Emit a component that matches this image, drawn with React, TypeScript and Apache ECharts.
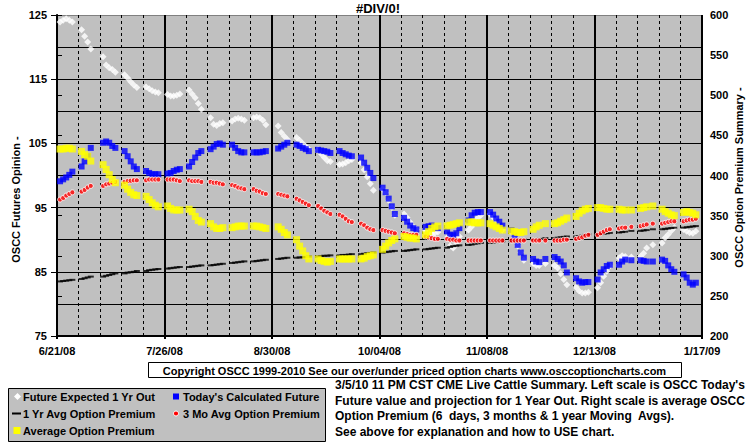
import React, { useEffect, useRef } from "react";
import * as echarts from "echarts";

// x axis: days since 6/21/08, labelled every 35 days
const xTickLabels = ["6/21/08", "7/26/08", "8/30/08", "10/04/08", "11/08/08", "12/13/08", "1/17/09"];

// Each week holds 5 trading-day values (null = market holiday)
const futureExpected1Yr = [
  123.9, 124.2, 124.4, 124.2, 123.9,
  122.7, 121.7, 120.8, 119.7, null,
  118.5, 117.2, 116.8, 116.5, 116.1,
  115.7, 115.2, 114.6, 114.1, 113.7,
  113.8, 113.5, 113.2, 113.0, 112.9,
  112.6, 112.4, 112.4, 112.5, 112.7,
  113.3, 112.7, 112.1, 111.2, 110.3,
  109.0, 108.0, 107.8, 108.1, 108.2,
  108.5, 108.8, 108.9, 108.8, 108.6,
  109.0, 109.1, 109.0, 108.6, 107.9,
  null, 107.7, 106.7, 106.1, 105.6,
  105.9, 105.5, 105.0, 104.5, 104.1,
  104.0, 103.4, 102.8, 102.3, 102.2,
  101.7, 101.8, 102.0, 102.3, 102.5,
  102.0, 100.9, 99.8, 98.7, 97.7,
  97.9, 97.3, 96.1, 95.0, 93.8,
  94.0, 93.4, 92.7, 92.0, 91.6,
  91.3, 91.1, 90.9, 91.0, 91.2,
  90.3, 89.0, 88.7, 89.3, 90.5,
  91.5, 92.0, 92.8, 93.4, 93.8,
  94.0, 93.5, 93.0, 92.3, 91.5,
  91.2, 90.3, 89.0, 88.0, 86.8,
  86.3, 86.0, 86.0, null, 86.3,
  86.0, 85.6, 84.7, 83.8, 83.0,
  82.6, 82.0, 81.7, 81.7, 81.8,
  82.5, 83.3, 84.3, 85.1, 85.9,
  87.2, 87.5, 87.4, null, 87.3,
  87.4, 87.9, 88.7, null, 89.2,
  89.5, 90.3, 90.8, 91.4, 91.9,
  91.6, 91.3, 91.1, 91.0, 91.3,
];

const todaysCalculatedFuture = [
  99.1, 99.4, 99.7, 100.1, 100.6,
  101.4, 102.2, 103.0, 104.3, null,
  105.1, 105.3, 105.1, 104.6, 104.3,
  103.8, 103.0, 102.2, 101.4, 101.0,
  100.7, 100.4, 100.2, 100.2, 100.2,
  100.3, 100.4, 100.7, 100.9, 101.0,
  101.4, 102.1, 102.8, 103.5, 103.8,
  104.1, 104.5, 104.9, 105.0, 104.8,
  104.8, 104.3, 103.8, 103.6, 103.6,
  103.6, 103.6, 103.6, 103.7, 103.8,
  null, 104.2, 104.5, 104.8, 105.1,
  104.8, 104.6, 104.3, 104.1, 103.8,
  104.0, 103.9, 103.8, 103.7, 103.5,
  103.8, 103.5, 103.3, 103.1, 103.0,
  102.8, 102.0, 101.2, 100.4, 99.6,
  98.1, 97.4, 96.4, 95.2, 94.0,
  93.4, 92.8, 92.2, 91.8, 91.6,
  92.0, 92.1, 92.2, 91.9, 91.8,
  91.3, 90.8, 90.7, 91.0, 91.8,
  93.0, 93.8, 94.2, 94.3, 94.3,
  94.3, 93.9, 93.3, 92.8, 92.2,
  91.5, 90.6, 89.2, 88.0, 87.2,
  87.0, 86.6, 86.5, null, 87.0,
  87.3, 87.0, 86.6, 86.0, 84.9,
  84.0, 83.5, 83.3, 83.4, 83.4,
  83.8, 84.9, 85.4, 85.9, 86.1,
  86.1, 86.6, 86.9, null, 86.8,
  86.8, 86.7, 86.6, null, 86.6,
  86.9, 86.7, 86.0, 85.4, 85.0,
  84.6, 84.1, 83.3, 83.0, 83.3,
];

const oneYrAvgPremium = [
  268, 268.5, 269, 269.5, 270,
  271, 272, 273, 274, null,
  274, 275, 276, 277, 278,
  278, 279, 279.5, 280, 281,
  281, 282, 282.5, 283, 283.5,
  284, 284.5, 285, 285.5, 286,
  286, 286.5, 287, 287.5, 288,
  288, 288.5, 289, 289.5, 290,
  291, 291.5, 292, 292.5, 293,
  293, 293.5, 294, 294.5, 295,
  null, 296, 296.5, 297, 297.5,
  297.5, 298, 298, 298.5, 299,
  299, 299.5, 300, 300, 300.5,
  300.5, 301, 301, 301.5, 302,
  302, 302.5, 303, 303.5, 304,
  304, 304.5, 305, 305.5, 306,
  306, 306.5, 307, 307.5, 308,
  308, 308.5, 309, 309.5, 310,
  310, 311, 312, 312.5, 313,
  313.5, 314, 315, 315.5, 316,
  316, 316.5, 317, 317.5, 318,
  318, 318.5, 319, 319.5, 320,
  320, 320.5, 321, null, 322,
  322, 322.5, 323, 323.5, 324,
  324, 324.5, 325, 326, 326.5,
  326.5, 327, 327.5, 328, 328.5,
  329, 329.5, 330, null, 331,
  331, 331.5, 332, null, 333,
  333, 333.5, 334, 334.5, 335,
  335, 335.5, 336, 336.5, 337,
];

const threeMoAvgPremium = [
  370, 372, 375, 377, 379,
  380, 382, 385, 387, null,
  387, 389, 390, 391, 392,
  392, 393, 393.5, 394, 394,
  394, 395, 395, 395, 395,
  395, 395, 395, 394, 393,
  394, 393, 393, 393, 392,
  392, 391, 391, 390, 389,
  388, 387, 385, 384, 383,
  383, 381, 380, 378, 377,
  null, 377, 376, 375, 374,
  371, 369, 367, 365, 363,
  362, 359, 356, 354, 352,
  351, 349, 346, 343, 342,
  340, 338, 335, 333, 332,
  332, 331, 330, 329, 328,
  328, 327, 326, 326, 326,
  324, 323, 322, 321, 321,
  321, 320, 320, 319, 319,
  319, 319, 319, 319, 319,
  319, 319, 319, 319, 319,
  319, 319, 319, 319, 319,
  319, 319, 319, null, 319,
  319, 319, 319, 320, 320,
  321, 322, 323, 325, 326,
  326, 328, 330, 332, 333,
  334, 335, 335, null, 336,
  337, 338, 339, null, 340,
  340, 341, 342, 343, 343,
  343, 344, 345, 345, 346,
];

const avgPremium = [
  433, 433, 434, 434, 433,
  430, 426, 424, 418, null,
  413.5, 407.5, 401, 395, 391,
  388, 383, 379, 376, 375,
  374, 370, 366, 363, 361,
  362, 359, 357, 357, 357,
  358, 355, 349, 344, 342,
  340, 336, 334, 334, 335,
  335, 336, 337, 337, 337,
  337, 337, 336, 335, 334,
  null, 336, 333, 329, 326,
  320, 312, 306, 300, 296,
  296, 294, 293, 292, 293,
  296, 296, 296, 296, 296,
  296, 297, 299, 300, 301,
  308, 312, 316, 319, 321,
  324, 323, 322, 322, 321,
  326, 330, 334, 336, 337,
  337, 338, 339, 340, 341,
  342, 342, 341, 341, 341,
  340, 338, 336, 334, 332,
  331, 330, 329, 329, 330,
  333, 336, 338, null, 340,
  340, 341, 343, 345, 347,
  349, 353, 356, 358, 359,
  360, 360, 359, 358, 358,
  358, 357, 357, null, 357,
  359, 360, 361, null, 362,
  358, 355, 353, 351, 350,
  354, 355, 354, 353, 351,
];

const legendNames = [
  "Future Expected 1 Yr Out",
  "Today's Calculated Future",
  "1 Yr Avg Option Premium",
  "3 Mo Avg Option Premium",
  "Average Option Premium",
];

const explanationLines = [
  "3/5/10 11 PM CST CME Live Cattle Summary. Left scale is OSCC Today's",
  "Future value and projection for 1 Year Out. Right scale is average OSCC",
  "Option Premium (6\u00a0 days, 3 months & 1 year Moving\u00a0 Avgs).",
  "See above for explanation and how to USE chart.",
];

const FONT = '"Liberation Sans", Arial, sans-serif';

// trading day i -> day offset from 6/21/08 (5 plotted days per 7-day week)
function toPoints(values: (number | null)[]) {
  const pts: [number, number][] = [];
  values.forEach((v, i) => {
    if (v == null) return;
    pts.push([Math.floor(i / 5) * 7 + (i % 5) + 1, v]);
  });
  return pts;
}

const boldText = (text: string, x: number, y: number, extra: any = {}, size = 11) => ({
  type: "text",
  x,
  y,
  silent: true,
  style: {
    text,
    fill: "#000",
    font: `bold ${size}px ${FONT}`,
    textAlign: "left",
    textVerticalAlign: "middle",
    ...extra,
  },
});

export default function App() {
  const ref = useRef<HTMLDivElement>(null);
  useEffect(() => {
    if (!ref.current) return;
    const chart = echarts.init(ref.current, undefined, { renderer: "svg" });
    const labelStyle = { fontWeight: "bold", fontSize: 11, color: "#000", fontFamily: FONT };
    const splitColors = ["#000", "#000", "#000", "#000", "#000", "#000", "#000", "#000", "#000", "#000", "#808080"];
    const row1 = 396.5, row2 = 413.5, row3 = 430.5;
    const option: any = {
      animation: false,
      backgroundColor: "#fff",
      grid: { left: 57, top: 15, width: 645, height: 321, show: true, backgroundColor: "#C0C0C0", borderWidth: 0 },
      xAxis: [
        {
          type: "value", min: 0, max: 210, interval: 35, position: "bottom",
          axisLine: { show: true, lineStyle: { color: "#000", width: 2 } },
          axisTick: { show: true, length: 3, lineStyle: { color: "#000", width: 2 } },
          axisLabel: { ...labelStyle, margin: 9, formatter: (v: number) => xTickLabels[Math.round(v / 35)] ?? "" },
          splitLine: { show: true, lineStyle: { color: "#000", width: 2 } },
        },
        {
          type: "value", min: 0, max: 210, interval: 7, position: "bottom",
          axisLine: { show: false }, axisTick: { show: false }, axisLabel: { show: false },
          splitLine: { show: true, lineStyle: { color: "#000", width: 1, type: [3, 3] } },
        },
      ],
      yAxis: [
        {
          type: "value", min: 75, max: 125, interval: 10, position: "left",
          axisLine: { show: true, lineStyle: { color: "#000", width: 1 } },
          axisTick: { show: true, length: 6, lineStyle: { color: "#000", width: 1 } },
          axisLabel: { ...labelStyle, margin: 10 },
          splitLine: { show: false },
        },
        {
          type: "value", min: 200, max: 600, interval: 50, position: "right",
          axisLine: { show: true, lineStyle: { color: "#000", width: 2 } },
          axisTick: { show: true, length: 5, lineStyle: { color: "#000", width: 1 } },
          axisLabel: { ...labelStyle, margin: 8 },
          splitLine: { show: false },
        },
        {
          type: "value", min: 75, max: 125, interval: 5, position: "left",
          axisLine: { show: false }, axisTick: { show: false }, axisLabel: { show: false },
          splitLine: { show: true, lineStyle: { color: splitColors, width: 1 } },
        },
      ],
      series: [
        {
          type: "scatter", name: legendNames[0], xAxisIndex: 0, yAxisIndex: 0,
          data: toPoints(futureExpected1Yr), symbol: "diamond", symbolSize: 7,
          itemStyle: { color: "#FFFFFF" }, silent: true,
        },
        {
          type: "scatter", name: legendNames[1], xAxisIndex: 0, yAxisIndex: 0,
          data: toPoints(todaysCalculatedFuture), symbol: "rect", symbolSize: 6,
          itemStyle: { color: "#0000FF" }, silent: true,
        },
        {
          type: "scatter", name: legendNames[2], xAxisIndex: 0, yAxisIndex: 1,
          data: toPoints(oneYrAvgPremium), symbol: "rect", symbolSize: [6, 2],
          itemStyle: { color: "#000000" }, silent: true,
        },
        {
          type: "scatter", name: legendNames[3], xAxisIndex: 0, yAxisIndex: 1,
          data: toPoints(threeMoAvgPremium), symbol: "circle", symbolSize: 5,
          itemStyle: { color: "#FF0000", borderColor: "#FFFFFF", borderWidth: 1 }, silent: true,
        },
        {
          type: "scatter", name: legendNames[4], xAxisIndex: 0, yAxisIndex: 1,
          data: toPoints(avgPremium), symbol: "rect", symbolSize: 7,
          itemStyle: { color: "#FFFF00" }, silent: true,
        },
      ],
      graphic: [
        {
          type: "text", x: 378, y: 8, silent: true,
          style: { text: "#DIV/0!", fill: "#000", font: `bold 13px ${FONT}`, textAlign: "center", textVerticalAlign: "middle" },
        },
        {
          type: "text", x: 16, y: 199.5, rotation: Math.PI / 2, silent: true,
          style: { text: "OSCC Futures Opinion -", fill: "#000", font: `bold 11px ${FONT}`, textAlign: "center", textVerticalAlign: "middle" },
        },
        {
          type: "text", x: 739, y: 177.5, rotation: Math.PI / 2, silent: true,
          style: { text: "OSCC Option Premium Summary -", fill: "#000", font: `bold 11px ${FONT}`, textAlign: "center", textVerticalAlign: "middle" },
        },
        {
          type: "rect", shape: { x: 148.5, y: 362.5, width: 533, height: 15 }, silent: true,
          style: { fill: "#fff", stroke: "#000", lineWidth: 1 },
        },
        boldText("Copyright OSCC 1999-2010 See our over/under priced option charts www.osccoptioncharts.com", 414.5, 370.5, { textAlign: "center" }),
        {
          type: "rect", shape: { x: 8.5, y: 388.5, width: 317, height: 53 }, silent: true,
          style: { fill: "#C0C0C0", stroke: "#000", lineWidth: 1 },
        },
        // legend markers
        { type: "polygon", silent: true, shape: { points: [[17.5, row1 - 3.5], [21, row1], [17.5, row1 + 3.5], [14, row1]] }, style: { fill: "#fff" } },
        { type: "rect", silent: true, shape: { x: 173, y: row1 - 3, width: 6, height: 6 }, style: { fill: "#0000FF" } },
        { type: "rect", silent: true, shape: { x: 12, y: row2 - 1, width: 9, height: 2 }, style: { fill: "#000" } },
        { type: "circle", silent: true, shape: { cx: 176, cy: row2, r: 2.5 }, style: { fill: "#FF0000", stroke: "#fff", lineWidth: 1 } },
        { type: "rect", silent: true, shape: { x: 13.5, y: row3 - 3.5, width: 7, height: 7 }, style: { fill: "#FFFF00" } },
        boldText(legendNames[0], 23, row1),
        boldText(legendNames[1], 183, row1),
        boldText(legendNames[2], 23, row2),
        boldText(legendNames[3], 183, row2),
        boldText(legendNames[4], 23, row3),
        ...explanationLines.map((t, i) => boldText(t, 335, 385 + i * 15.5, {}, 12)),
      ],
    };
    chart.setOption(option);
    return () => chart.dispose();
  }, []);
  return <div ref={ref} style={{ position: "fixed", left: 0, top: 0, width: 755, height: 446 }} />;
}
